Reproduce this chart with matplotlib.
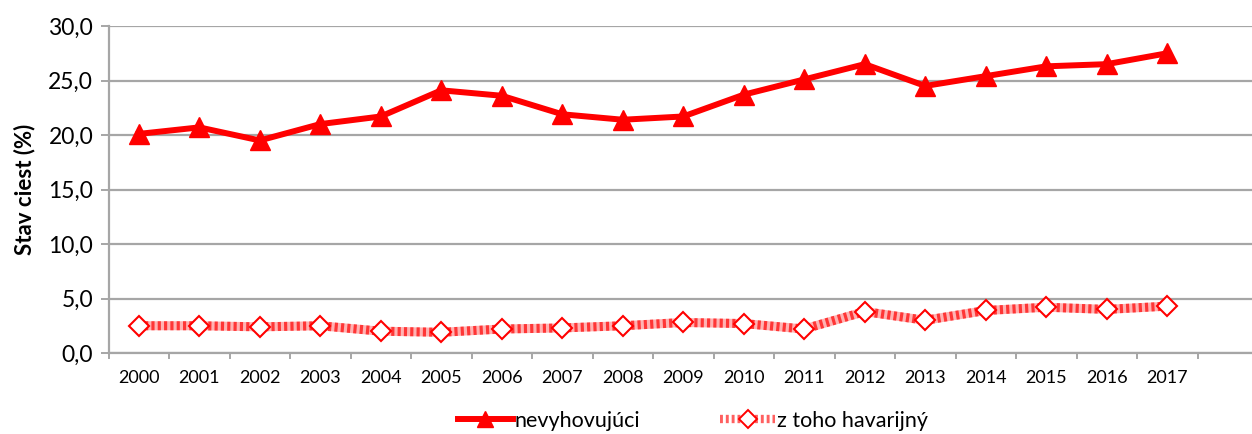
import matplotlib
matplotlib.use("Agg")
import matplotlib.pyplot as plt
from matplotlib.lines import Line2D
import numpy as np

years = ["2000", "2001", "2002", "2003", "2004", "2005", "2006", "2007", "2008",
         "2009", "2010", "2011", "2012", "2013", "2014", "2015", "2016", "2017"]
nevyhovujuci = [20.1, 20.7, 19.5, 21.0, 21.7, 24.1, 23.6, 21.9, 21.4,
                21.7, 23.7, 25.1, 26.5, 24.5, 25.4, 26.3, 26.5, 27.5]
havarijny = [2.5, 2.5, 2.4, 2.5, 2.0, 1.9, 2.2, 2.3, 2.5,
             2.8, 2.7, 2.2, 3.8, 3.0, 3.9, 4.2, 4.0, 4.3]
yticks = [0, 5, 10, 15, 20, 25, 30]
ytick_labels = ["0,0", "5,0", "10,0", "15,0", "20,0", "25,0", "30,0"]

plt.rcParams['font.family'] = ['Lato', 'DejaVu Sans']

W, H = 1252, 434
fig = plt.figure(figsize=(W / 100, H / 100), dpi=100)
left = 108.5 / W
bottom = (H - 353) / H
top = (H - 26) / H
ax = fig.add_axes([left, bottom, 1 - left, top - bottom])

x = np.arange(len(years))
cat_w = 60.5
right_lim = -0.5 + (W - 108.5) / cat_w

# grid
ax.set_ylim(0, 30)
ax.set_xlim(-0.5, right_lim)
ax.set_yticks(yticks)
ax.set_yticklabels(ytick_labels, fontsize=16.5)
ax.yaxis.grid(True, color='#a6a6a6', linewidth=1.6)
ax.set_axisbelow(True)
ax.set_xticks(x)
ax.set_xticklabels(years, fontsize=13)
ax.tick_params(axis='x', length=0, pad=12)
ax.tick_params(axis='y', length=6, width=1.4, color='#a6a6a6', pad=5)
# category boundary tick marks
for b in np.arange(-0.5, right_lim, 1.0):
    ax.plot([b, b], [0, -0.5], color='#a6a6a6', lw=1.4, clip_on=False, zorder=1)
for s in ['top', 'right']:
    ax.spines[s].set_visible(False)
ax.spines['bottom'].set_color('#a6a6a6')
ax.spines['bottom'].set_linewidth(1.6)
ax.spines['left'].set_color('#a6a6a6')
ax.spines['left'].set_linewidth(1.6)

# series 1
ax.plot(x, nevyhovujuci, color='#ff0000', lw=4.3, marker='^', markersize=14,
        markerfacecolor='#ff0000', markeredgecolor='#ff0000', zorder=4,
        solid_joinstyle='round')

# series 2: checkered-like thick line
ax.plot(x, havarijny, color='#ffb3b3', lw=6.5, zorder=3, solid_joinstyle='round')
ax.plot(x, havarijny, color='#ff2020', lw=6.5, zorder=3,
        dashes=(0.35, 0.35), alpha=0.85)
ax.plot(x, havarijny, linestyle='none', marker='D', markersize=10,
        markerfacecolor='white', markeredgecolor='#ff0000', markeredgewidth=1.5,
        zorder=5)

ax.set_ylabel("Stav ciest (%)", fontsize=16, fontweight='bold', labelpad=5)
ax.yaxis.set_label_coords(-73 / (W - 108.5), 0.5)

# legend
h1 = Line2D([], [], color='#ff0000', lw=4.3, marker='^', markersize=11,
            markerfacecolor='#ff0000', markeredgecolor='#ff0000')
h2 = Line2D([], [], color='#ff6060', lw=6, marker='D', markersize=9,
            markerfacecolor='white', markeredgecolor='#ff0000', markeredgewidth=1.4,
            dashes=(0.35, 0.35))
leg = fig.legend([h1, h2], ["nevyhovujúci", "z toho havarijný"], loc='center',
                 bbox_to_anchor=(693 / W, (H - 421) / H), ncol=2, frameon=False,
                 fontsize=15.5, handlelength=2.55, handletextpad=0.1, columnspacing=3.7)

fig.savefig("out.png", dpi=100)
